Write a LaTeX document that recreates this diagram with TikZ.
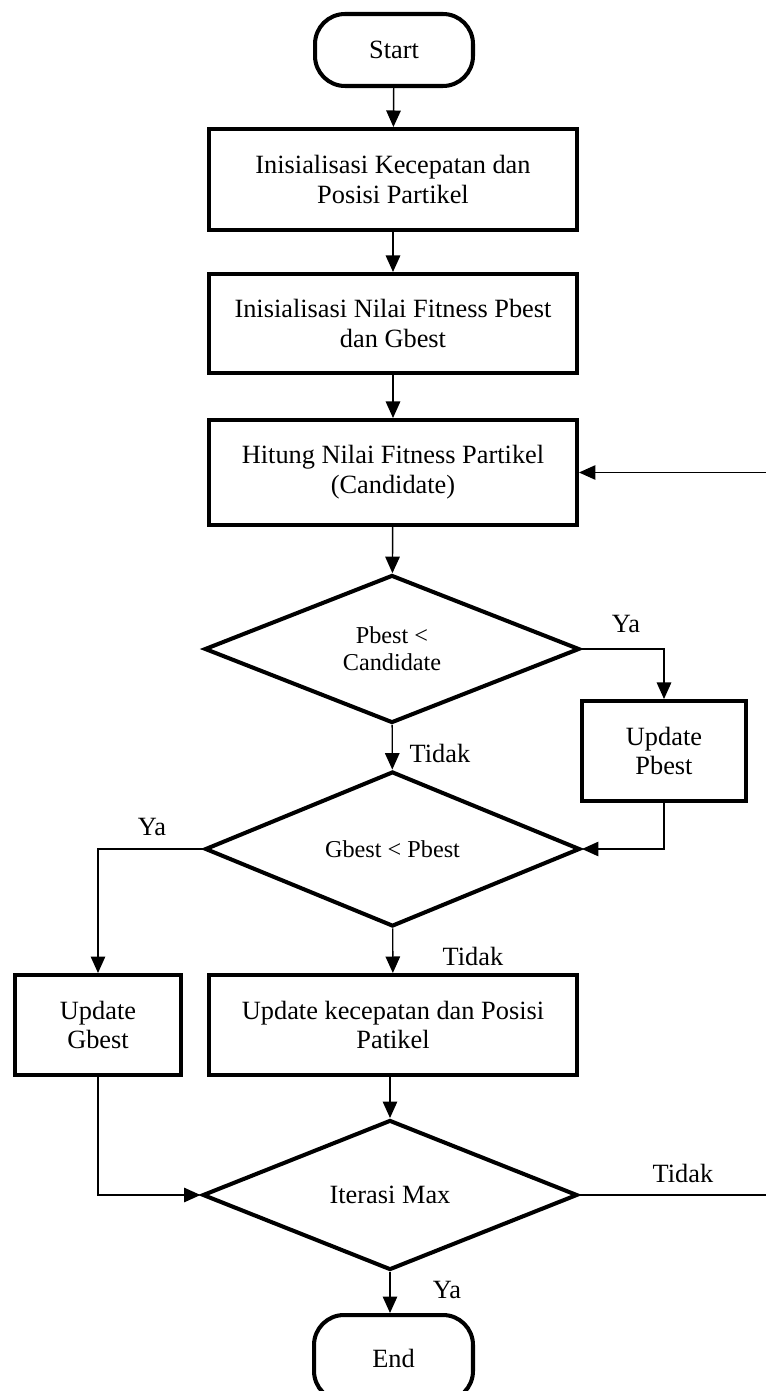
\documentclass[tikz,border=0pt]{standalone}
\usepackage{fontspec}
\setmainfont{Liberation Serif}
\usetikzlibrary{shapes.geometric,arrows.meta}
\begin{document}
\begin{tikzpicture}[x=0.02cm,y=-0.02cm,
  boxtext/.style={font=\fontsize{15}{17}\selectfont},
  terminal/.style={draw,line width=2.3pt,rectangle,rounded corners=0.6cm,minimum width=3.16cm,minimum height=1.44cm,inner sep=0pt,boxtext},
  procbox/.style={draw,line width=2.3pt,rectangle,align=center,inner sep=0pt,boxtext},
  decision/.style={draw,line width=2.3pt,diamond,align=center,inner sep=0pt,minimum width=7.5cm,minimum height=3.02cm},
  dtext/.style={font=\fontsize{13.8}{15.5}\selectfont},
  conn/.style={line width=0.8pt},
  arr/.style={conn,-{Triangle[length=0.33cm,width=0.29cm]}},
  lbl/.style={inner sep=0pt,boxtext}
]
\useasboundingbox (0,0) rectangle (765,1391);

\node[terminal] (start) at (394,50) {Start};
\node[procbox,minimum width=7.36cm,minimum height=2.02cm] (b1) at (393,179.5) {Inisialisasi Kecepatan dan\\Posisi Partikel};
\node[procbox,minimum width=7.36cm,minimum height=1.98cm] (b2) at (393,323.5) {Inisialisasi Nilai Fitness Pbest\\dan Gbest};
\node[procbox,minimum width=7.36cm,minimum height=2.1cm] (b3) at (393,472.5) {Hitung Nilai Fitness Partikel\\(Candidate)};
\node[decision,dtext,minimum height=2.96cm] (d1) at (392,649) {Pbest <\\Candidate};
\node[procbox,minimum width=3.28cm,minimum height=2.0cm] (pb) at (664,751) {Update\\Pbest};
\node[decision,dtext,minimum height=3.1cm] (d2) at (392.5,849) {Gbest < Pbest};
\node[procbox,minimum width=3.32cm,minimum height=2.0cm] (gb) at (98,1025) {Update\\Gbest};
\node[procbox,minimum width=7.36cm,minimum height=2.0cm] (upd) at (393,1025) {Update kecepatan dan Posisi\\Patikel};
\node[decision,boxtext,minimum height=3.0cm] (iter) at (390,1195) {Iterasi Max};
\node[terminal,minimum width=3.18cm,minimum height=1.72cm] (end) at (393.5,1358) {End};

\coordinate (edge) at (775,0);

\draw[arr] (start) -- (b1);
\draw[arr] (b1) -- (b2);
\draw[arr] (b2) -- (b3);
\draw[arr] (b3) -- (d1);
\draw[arr] (d1) -- (d2);
\draw[arr] (d1.east) -| (pb.north);
\draw[arr] (pb.south) |- (d2.east);
\draw[arr] (d2.west) -| (gb.north);
\draw[arr] (d2) -- (upd);
\draw[arr] (upd.south -| iter.north) -- (iter.north);
\draw[arr] (gb.south) |- (iter.west);
\draw[arr] (iter.south) -- (iter.south |- end.north);
\draw[conn] (iter.east) -- (iter.east -| edge);
\draw[arr] (b3.east -| edge) -- (b3.east);

\node[lbl] (ya1) at (626,624) {Ya};
\node[lbl] (tidak1) at (440,753) {Tidak};
\node[lbl] (ya2) at (152,827) {Ya};
\node[lbl] (tidak2) at (473,956) {Tidak};
\node[lbl] (tidak3) at (683,1173) {Tidak};
\node[lbl] (ya3) at (447,1290) {Ya};
\end{tikzpicture}
\end{document}
